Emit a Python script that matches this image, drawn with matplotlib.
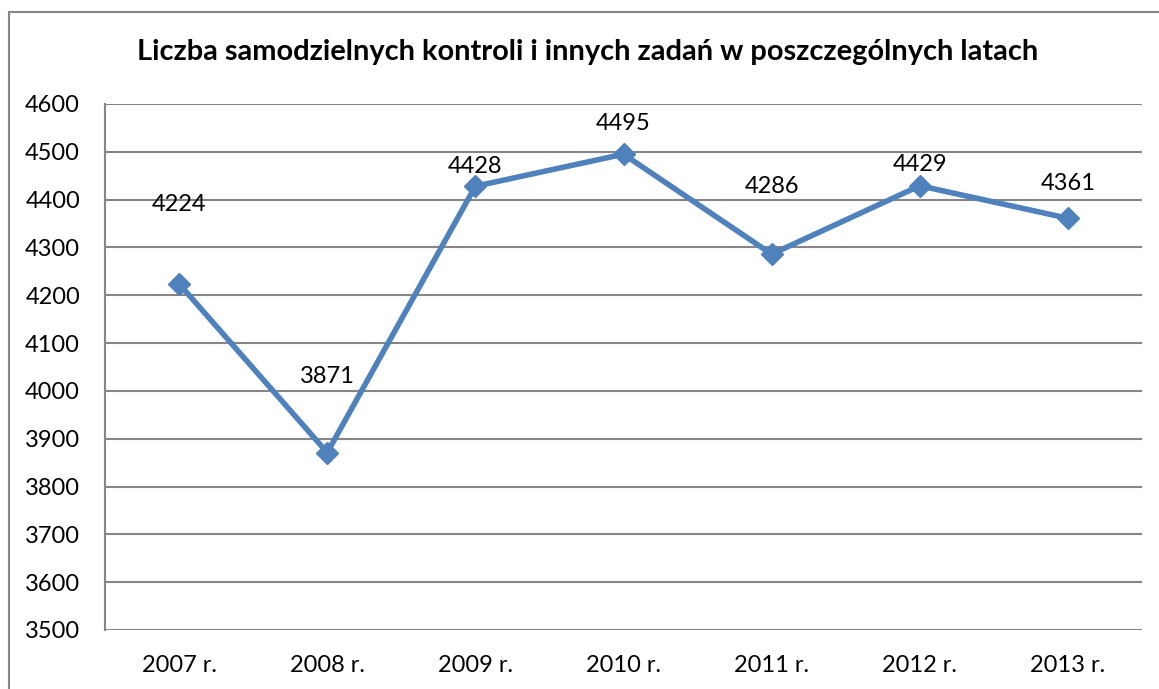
import matplotlib
matplotlib.use("Agg")
import matplotlib.pyplot as plt
from matplotlib.patches import Rectangle

plt.rcParams['font.family'] = ['Lato', 'DejaVu Sans']

categories = ["2007 r.", "2008 r.", "2009 r.", "2010 r.", "2011 r.", "2012 r.", "2013 r."]
values = [4224, 3871, 4428, 4495, 4286, 4429, 4361]
title = "Liczba samodzielnych kontroli i innych zadań w poszczególnych latach"
yticks = list(range(3500, 4601, 100))
# label offsets above points (in points), style only
label_dy = [57, 55, 14, 22, 49, 15, 25]

fig = plt.figure(figsize=(11.59, 6.89), dpi=100)
W, H = 1159, 689
ax = fig.add_axes([105 / W, 1 - 630 / H, (1142 - 105) / W, (630 - 104) / H])

x = list(range(len(categories)))
ax.plot(x, values, color="#4F81BD", lw=4, marker="D", markersize=11,
        markerfacecolor="#4F81BD", markeredgecolor="#4F81BD", zorder=3,
        solid_joinstyle="round")
for xi, v, dy in zip(x, values, label_dy):
    ax.annotate(str(v), (xi, v), xytext=(0, dy), textcoords="offset points",
                ha="center", va="center", fontsize=17, color="black")

ax.set_xlim(-0.5, len(categories) - 0.5)
ax.set_ylim(3500, 4600)
ax.set_yticks(yticks)
ax.set_xticks(x)
ax.set_xticklabels(categories)
ax.tick_params(axis="both", length=0, labelsize=17, colors="black")
ax.tick_params(axis="y", pad=18)
ax.tick_params(axis="x", pad=18)
ax.grid(axis="y", color="#868686", lw=1.5)
ax.set_axisbelow(True)
for s in ["top", "right", "bottom"]:
    ax.spines[s].set_visible(False)
ax.spines["left"].set_color("#868686")
ax.spines["left"].set_linewidth(1.5)

fig.text(588 / W, 1 - 52 / H, title, ha="center", va="center",
         fontsize=20.9, fontweight="bold")

fig.patches.append(Rectangle((9 / W, -0.1), 1.2, 1 - 12 / H + 0.1,
                             transform=fig.transFigure, fill=False,
                             edgecolor="#868686", lw=1.5))

fig.savefig("out.png", dpi=100)
